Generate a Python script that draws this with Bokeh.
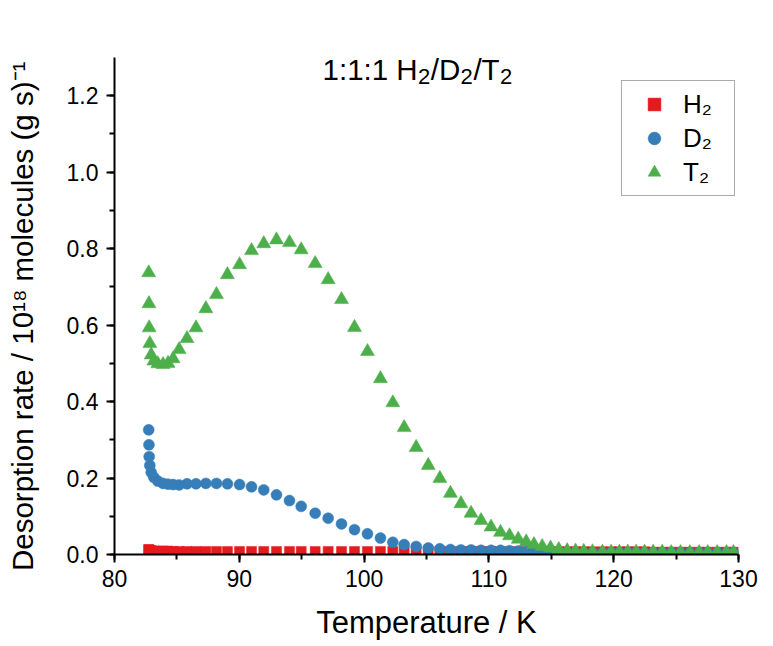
from bokeh.plotting import figure
from bokeh.models import (Range1d, SingleIntervalTicker, PrintfTickFormatter, Label,
                          Legend, LegendItem)
from bokeh.embed import file_html
from bokeh.resources import INLINE

# ---- data ----
temperature = [82.74, 82.76, 82.78, 82.83, 82.94, 83.15, 83.47, 83.89, 84.29, 84.70,
               85.18, 85.81, 86.53, 87.32, 88.17, 89.05, 90.02, 90.98, 91.96, 92.98,
               94.02, 94.96, 96.08, 97.12, 98.19, 99.23, 100.27, 101.31, 102.30, 103.21,
               104.17, 105.14, 106.07, 106.92, 107.76, 108.57, 109.37, 110.17, 110.93, 111.65,
               112.35, 112.99, 113.61, 114.27, 114.94, 115.60, 116.27, 116.94, 117.60, 118.30,
               119.10, 119.79, 120.46, 121.13, 121.80, 122.47, 123.16, 123.89, 124.61, 125.35,
               126.10, 126.85, 127.54, 128.29, 129.04, 129.60]

h2 = [0.013, 0.012, 0.011, 0.010, 0.010, 0.009, 0.009, 0.009, 0.009, 0.008,
      0.008, 0.008, 0.008, 0.008, 0.008, 0.008, 0.008, 0.008, 0.008, 0.008,
      0.008, 0.008, 0.008, 0.008, 0.008, 0.008, 0.008, 0.008, 0.008, 0.008,
      0.008, 0.008, 0.008, 0.008, 0.008, 0.008, 0.008, 0.008, 0.007, 0.007,
      0.007, 0.007, 0.007, 0.007, 0.007, 0.007, 0.007, 0.007, 0.007, 0.007,
      0.007, 0.007, 0.007, 0.007, 0.007, 0.007, 0.006, 0.006, 0.006, 0.006,
      0.006, 0.006, 0.006, 0.006, 0.006, 0.006]

d2 = [0.326, 0.287, 0.256, 0.233, 0.215, 0.202, 0.192, 0.186, 0.184, 0.183,
      0.182, 0.185, 0.185, 0.186, 0.186, 0.185, 0.183, 0.177, 0.169, 0.156,
      0.141, 0.126, 0.108, 0.095, 0.080, 0.065, 0.054, 0.043, 0.032, 0.026,
      0.021, 0.017, 0.015, 0.013, 0.012, 0.012, 0.011, 0.011, 0.011, 0.010,
      0.009, 0.008, 0.007, 0.006, 0.005, 0.005, 0.005, 0.005, 0.005, 0.005,
      0.005, 0.005, 0.005, 0.005, 0.005, 0.005, 0.005, 0.005, 0.005, 0.005,
      0.005, 0.005, 0.005, 0.005, 0.005, 0.005]

t2 = [0.737, 0.656, 0.593, 0.552, 0.522, 0.506, 0.499, 0.497, 0.500, 0.512,
      0.536, 0.565, 0.593, 0.643, 0.680, 0.732, 0.758, 0.795, 0.813, 0.823,
      0.816, 0.797, 0.761, 0.719, 0.667, 0.594, 0.531, 0.460, 0.397, 0.332,
      0.280, 0.233, 0.199, 0.160, 0.133, 0.108, 0.089, 0.072, 0.058, 0.049,
      0.040, 0.033, 0.026, 0.021, 0.017, 0.013, 0.010, 0.009, 0.008, 0.007,
      0.006, 0.006, 0.006, 0.006, 0.006, 0.006, 0.006, 0.006, 0.005, 0.005,
      0.005, 0.005, 0.005, 0.005, 0.005, 0.005]

series_labels = ["H\u2082", "D\u2082", "T\u2082"]
# title pieces: (text, is_subscript)
title_parts = [("1:1:1 H", False), ("2", True), ("/D", False), ("2", True),
               ("/T", False), ("2", True)]
x_label = "Temperature / K"
y_label = "Desorption rate / 10\u00b9\u2078 molecules (g s)\u207b\u00b9\u2002\u2009"

FONT = "Liberation Sans"
RED, BLUE, GREEN = "#E41A1C", "#377EB8", "#4DAF4A"

p = figure(width=765, height=642, x_range=Range1d(80, 130), y_range=Range1d(0, 1.3),
           output_backend="svg", toolbar_location=None,
           min_border_left=114, min_border_right=27, min_border_top=57, min_border_bottom=88)
p.outline_line_color = None
p.grid.visible = False
p.background_fill_color = "white"
p.border_fill_color = "white"

p.xaxis.ticker = SingleIntervalTicker(interval=10, num_minor_ticks=2)
p.yaxis.ticker = SingleIntervalTicker(interval=0.2, num_minor_ticks=2)
p.yaxis.formatter = PrintfTickFormatter(format="%.1f")

for ax in (p.xaxis[0], p.yaxis[0]):
    ax.axis_line_width = 2
    ax.axis_line_color = "black"
    ax.major_tick_line_width = 2
    ax.minor_tick_line_width = 2
    ax.major_tick_line_color = "black"
    ax.minor_tick_line_color = "black"
    ax.major_tick_out = 8
    ax.major_tick_in = 0
    ax.minor_tick_out = 5
    ax.minor_tick_in = 0
    ax.major_label_text_font = FONT
    ax.major_label_text_font_size = "23px"
    ax.major_label_text_color = "black"
    ax.axis_label_text_font = FONT
    ax.axis_label_text_font_style = "normal"
    ax.axis_label_text_color = "black"

p.xaxis.axis_label = x_label
p.yaxis.axis_label = y_label
p.xaxis.axis_label_text_font_size = "31px"
p.yaxis.axis_label_text_font_size = "29.5px"
p.xaxis.major_label_standoff = 7
p.yaxis.major_label_standoff = 8
p.xaxis.axis_label_standoff = 15
p.yaxis.axis_label_standoff = 25

r_h = p.scatter(temperature, h2, marker="square", size=10, fill_color=RED, line_color=RED, line_width=0.5)
r_d = p.scatter(temperature, d2, marker="circle", size=11, fill_color=BLUE, line_color=BLUE, line_width=0.5)
r_t = p.scatter(temperature, t2, marker="triangle", size=14, fill_color=GREEN, line_color=GREEN, line_width=0.5)

# title inside the plot, built from pieces so the subscripts look like the original
MAIN_PX, SUB_PX = 29.5, 22.0
EM = {"1": 0.556, "2": 0.556, ":": 0.278, " ": 0.278, "H": 0.722, "/": 0.278,
      "D": 0.722, "T": 0.611}
offset = 0.0
for txt, is_sub in title_parts:
    fs = SUB_PX if is_sub else MAIN_PX
    p.add_layout(Label(x=96.67, y=1.268, x_offset=offset, y_offset=-7 if is_sub else 0,
                       text=txt, text_align="left", text_baseline="alphabetic",
                       text_font=FONT, text_font_size=f"{fs}px", text_color="black"))
    offset += sum(EM[c] for c in txt) * fs + (0.6 if is_sub else 0.3)

legend = Legend(items=[LegendItem(label=series_labels[0], renderers=[r_h]),
                       LegendItem(label=series_labels[1], renderers=[r_d]),
                       LegendItem(label=series_labels[2], renderers=[r_t])],
                location=(507, 358))
legend.padding = 7
legend.spacing = 2
legend.glyph_height = 32
legend.glyph_width = 50
legend.label_height = 32
legend.label_width = 44
legend.label_standoff = 4
legend.margin = 0
legend.label_text_font = FONT
legend.label_text_font_size = "26px"
legend.label_text_color = "black"
legend.border_line_color = "#555555"
legend.border_line_width = 1.5
legend.background_fill_color = "white"
legend.background_fill_alpha = 1.0
p.add_layout(legend)

open("out.html", "w").write(file_html(p, INLINE))
